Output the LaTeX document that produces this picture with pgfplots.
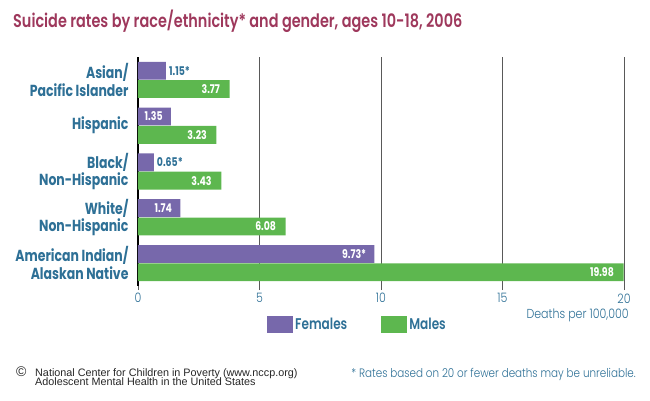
\documentclass[border=0pt]{standalone}
\usepackage{pgfplots}
\pgfplotsset{compat=1.18}
\usepackage{fontspec}
\setmainfont{Poppins}
\newfontfamily\fut{Poppins}[FakeStretch=0.78]
\newfontfamily\futm{Poppins SemiBold}[FakeStretch=0.78]
\newfontfamily\futl{Poppins Light}[FakeStretch=0.85]
\newfontfamily\arial{Liberation Sans}
\definecolor{ttl}{RGB}{158,56,92}
\definecolor{tealc}{RGB}{46,112,150}
\definecolor{fem}{RGB}{119,104,171}
\definecolor{mal}{RGB}{93,183,79}
\begin{document}
\begin{tikzpicture}[x=1pt,y=1pt]
\path[use as bounding box] (0,0) rectangle (650,400);
\begin{axis}[
  at={(138pt,114pt)}, anchor=south west, scale only axis,
  width=486pt, height=229pt,
  xmin=0, xmax=20, ymin=-0.5, ymax=4.5, y dir=reverse,
  xbar, bar width=0.39,
  axis x line*=bottom, axis y line*=left,
  x axis line style={draw=none},
  y axis line style={black, line width=1.6pt, -},
  xtick={0,5,10,15,20},
  xmajorgrids, major grid style={gray!70!black, line width=0.6pt},
  xtick align=outside, major tick length=4pt,
  x tick style={gray!70!black, line width=0.6pt},
  xticklabel style={font=\futl\fontsize{13}{13}\selectfont, text=tealc},
  /pgf/number format/assume math mode=true,
  ytick={0,1,2,3,4},
  ytick style={draw=none},
  yticklabels={{Asian/\\Pacific Islander}, {Hispanic}, {Black/\\Non-Hispanic}, {White/\\Non-Hispanic}, {American Indian/\\Alaskan Native}},
  yticklabel style={align=right, font=\fut\bfseries\fontsize{16}{17.5}\selectfont, text=tealc, xshift=-2pt},
  legend columns=2,
  legend style={draw=none, fill=none, at={(0.2654,-0.166)}, anchor=west, inner sep=0pt,
    font=\futm\fontsize{15.5}{15.5}\selectfont, text=tealc,
    /tikz/every even column/.append style={column sep=32pt}},
  every node near coord/.append style={font=\fut\bfseries\fontsize{12}{12}\selectfont, inner sep=0pt},
]
% Female bars
\addplot[fill=fem, draw=none, bar shift=-0.2,
  legend image code/.code={\fill[fem] (0pt,-8.5pt) rectangle (26pt,8.5pt);}]
  coordinates {(1.15,0) (1.35,1) (0.65,2) (1.74,3) (9.73,4)};
\addlegendentry{Females}
% Male bars
\addplot[fill=mal, draw=none, bar shift=0.2,
  legend image code/.code={\fill[mal] (0pt,-8.5pt) rectangle (26pt,8.5pt);}]
  coordinates {(3.77,0) (3.23,1) (3.43,2) (6.08,3) (19.98,4)};
\addlegendentry{Males}
% Labels inside bars
\addplot[draw=none, fill=none, bar shift=-0.2, forget plot,
  point meta=explicit symbolic, nodes near coords,
  nodes near coords style={anchor=east, xshift=-8pt, text=white}]
  coordinates {(1.35,1) [1.35] (1.74,3) [1.74] (9.73,4) [9.73*]};
\addplot[draw=none, fill=none, bar shift=0.2, forget plot,
  point meta=explicit symbolic, nodes near coords,
  nodes near coords style={anchor=east, xshift=-9.5pt, text=white}]
  coordinates {(3.77,0) [3.77] (3.23,1) [3.23] (3.43,2) [3.43] (6.08,3) [6.08] (19.98,4) [19.98]};
% Labels outside bars
\addplot[draw=none, fill=none, bar shift=-0.2, forget plot,
  point meta=explicit symbolic, nodes near coords,
  nodes near coords style={anchor=west, xshift=3pt, text=tealc}]
  coordinates {(1.15,0) [1.15*] (0.65,2) [0.65*]};
\end{axis}
\node[anchor=base west, text=ttl, font=\futm\fontsize{18.5}{18.5}\selectfont, inner sep=0pt] at (13,372) {Suicide rates by race/ethnicity* and gender, ages 10-18, 2006};
\node[anchor=east, text=tealc, font=\futl\fontsize{13}{13}\selectfont, inner sep=0pt] at (629,85) {Deaths per 100,000};
\node[anchor=base west, font=\arial\fontsize{14}{14}\selectfont, text=black!85, inner sep=0pt] at (16,24) {\textcopyright};
\node[anchor=base west, font=\arial\fontsize{10.8}{10.8}\selectfont, text=black!85, inner sep=0pt] at (35,24) {National Center for Children in Poverty (www.nccp.org)};
\node[anchor=base west, font=\arial\fontsize{10.8}{10.8}\selectfont, text=black!85, inner sep=0pt] at (35,14.5) {Adolescent Mental Health in the United States};
\node[anchor=base east, font=\futl\fontsize{12.2}{12.2}\selectfont, text=tealc, inner sep=0pt] at (636,23) {* Rates based on 20 or fewer deaths may be unreliable.};
\end{tikzpicture}
\end{document}
